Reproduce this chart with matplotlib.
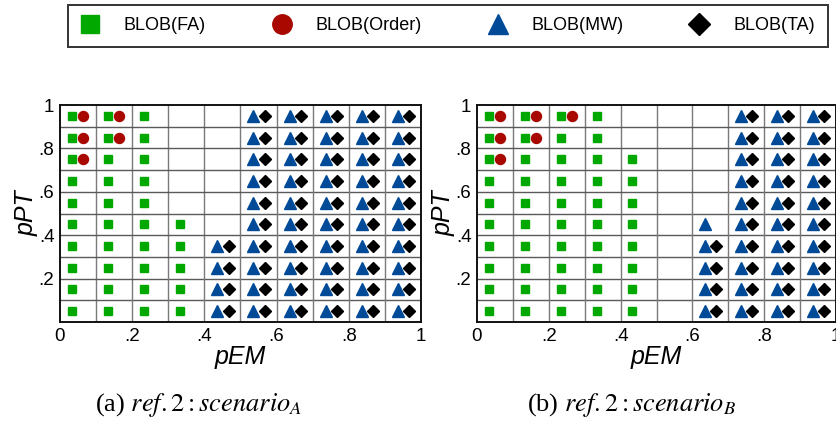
import numpy as np
import matplotlib
matplotlib.use("Agg")
import matplotlib.pyplot as plt
from matplotlib.lines import Line2D

plt.rcParams['font.family'] = ['Liberation Sans', 'DejaVu Sans']
plt.rcParams['mathtext.fontset'] = 'stix'

# grid cells along pEM (columns) and pPT (rows)
n_cells = 10
# rows filled per pEM column (from bottom, except Order which fills from top)
fa_a = [10, 10, 10, 5, 0, 0, 0, 0, 0, 0]
order_a = [3, 2, 0, 0, 0, 0, 0, 0, 0, 0]
mw_a = [0, 0, 0, 0, 4, 10, 10, 10, 10, 10]
ta_a = [0, 0, 0, 0, 4, 10, 10, 10, 10, 10]

fa_b = [10, 10, 10, 10, 8, 0, 0, 0, 0, 0]
order_b = [3, 2, 1, 0, 0, 0, 0, 0, 0, 0]
mw_b = [0, 0, 0, 0, 0, 0, 5, 10, 10, 10]
ta_b = [0, 0, 0, 0, 0, 0, 4, 10, 10, 10]

xtick_vals = [0, 0.2, 0.4, 0.6, 0.8, 1]
xtick_labels = ['0', '.2', '.4', '.6', '.8', '1']
ytick_vals = [0.2, 0.4, 0.6, 0.8, 1]
ytick_labels = ['.2', '.4', '.6', '.8', '1']

captions = [r'(a) $ref.2:scenario_A$', r'(b) $ref.2:scenario_B$']

green = '#00a800'
red = '#a80800'
blue = '#004a98'
black = '#000000'

styles = {
    'FA': dict(marker='s', color=green, ms=6.2, dx=0.033),
    'Order': dict(marker='o', color=red, ms=7.2, dx=0.064),
    'MW': dict(marker='^', color=blue, ms=8.0, dx=0.036),
    'TA': dict(marker='D', color=black, ms=6.0, dx=0.067),
}


def cells(counts, from_top=False):
    xs, ys = [], []
    for col, cnt in enumerate(counts):
        for k in range(cnt):
            row = n_cells - 1 - k if from_top else k
            xs.append(col / n_cells)
            ys.append(row / n_cells + 0.05)
    return np.array(xs), np.array(ys)


def draw_panel(ax, fa, order, mw, ta):
    for v in np.arange(1, n_cells) / n_cells:
        ax.axvline(v, color='#7a7a7a', lw=1.0, zorder=1)
        ax.axhline(v, color='#5a5a5a', lw=1.0, zorder=1)
    for name, counts, top in [('FA', fa, False), ('Order', order, True),
                              ('MW', mw, False), ('TA', ta, False)]:
        st = styles[name]
        xs, ys = cells(counts, top)
        if len(xs):
            ax.plot(xs + st['dx'], ys, linestyle='none', marker=st['marker'],
                    color=st['color'], ms=st['ms'], mec=st['color'], zorder=3)
    ax.set_xlim(0, 1)
    ax.set_ylim(0, 1)
    ax.set_xticks(xtick_vals)
    ax.set_xticklabels(xtick_labels)
    ax.set_yticks(ytick_vals)
    ax.set_yticklabels(ytick_labels)
    ax.tick_params(length=0, labelsize=13.5, pad=4)
    for sp in ax.spines.values():
        sp.set_linewidth(1.4)
        sp.set_color('#111111')
    ax.set_xlabel('pEM', fontsize=18, style='italic', labelpad=0)
    ax.set_ylabel('pPT', fontsize=18, style='italic', labelpad=0)


fig = plt.figure(figsize=(8.37, 4.25), dpi=100)
ax1 = fig.add_axes([60 / 837, 103 / 425, 361 / 837, 217 / 425])
ax2 = fig.add_axes([477 / 837, 103 / 425, 359 / 837, 217 / 425])

draw_panel(ax1, fa_a, order_a, mw_a, ta_a)
draw_panel(ax2, fa_b, order_b, mw_b, ta_b)

fig.text(95 / 837, 20 / 425, captions[0], fontsize=19,
         family='Liberation Serif', ha='left', va='center')
fig.text(527 / 837, 20 / 425, captions[1], fontsize=19,
         family='Liberation Serif', ha='left', va='center')

handles = [
    Line2D([], [], linestyle='none', marker='s', color=green, ms=13),
    Line2D([], [], linestyle='none', marker='o', color=red, ms=14),
    Line2D([], [], linestyle='none', marker='^', color=blue, ms=14),
    Line2D([], [], linestyle='none', marker='D', color=black, ms=11),
]
labels = ['BLOB(FA)', 'BLOB(Order)', 'BLOB(MW)', 'BLOB(TA)']
leg = fig.legend(handles, labels, loc='center', ncol=4, mode='expand',
                 bbox_to_anchor=(68 / 837, 375 / 425, 760 / 837, 48 / 425),
                 borderaxespad=0, fancybox=False, fontsize=13,
                 handlelength=1.0, handletextpad=1.4, columnspacing=2.0,
                 borderpad=0.7)
leg.get_frame().set_edgecolor('black')
leg.get_frame().set_linewidth(1.4)

fig.savefig('out.png', dpi=100)
